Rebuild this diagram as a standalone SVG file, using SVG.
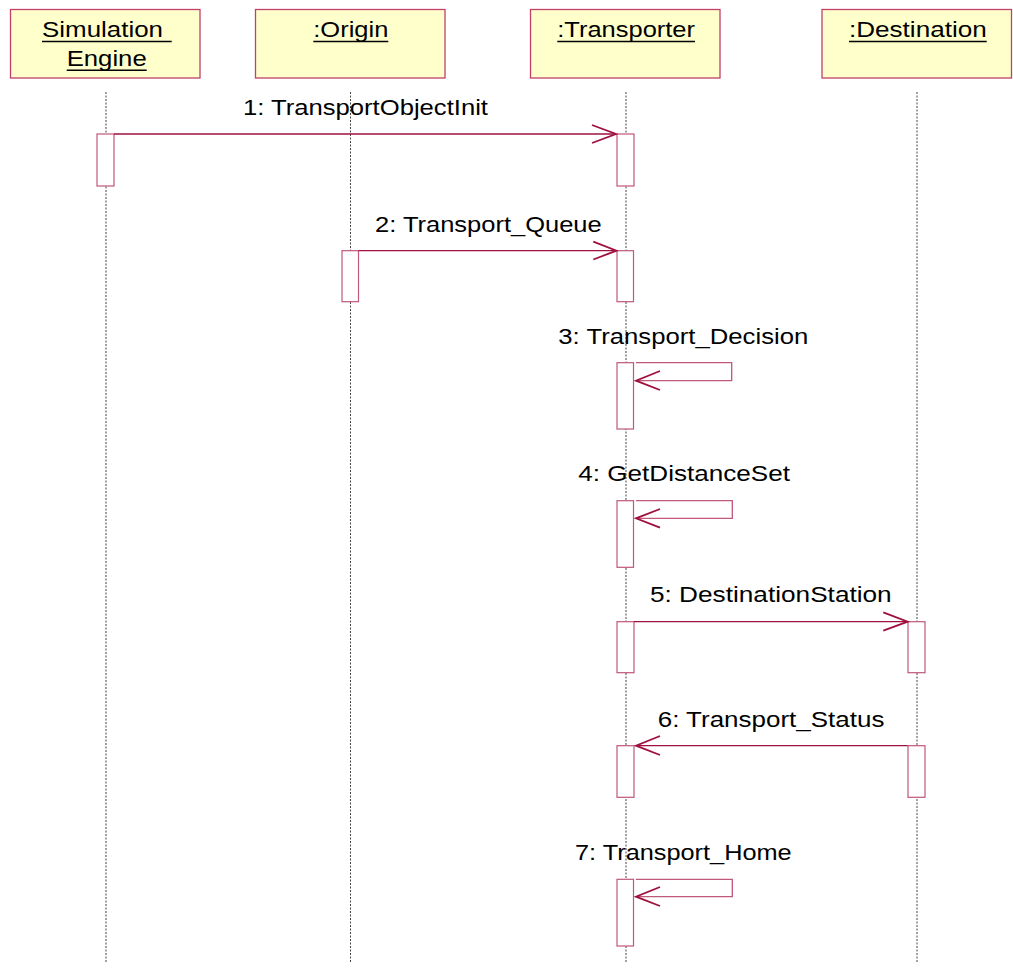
<svg xmlns="http://www.w3.org/2000/svg" width="1013" height="973" viewBox="0 0 1013 973">
<style>
.hdr{fill:#FFFFCC;stroke:#C0406A;stroke-width:1.3}
.hl{font-family:"Liberation Sans",Arial,sans-serif;font-size:22px;fill:#000}
.ul{stroke:#000;stroke-width:1.5}
.life{stroke:#444;stroke-width:1;stroke-dasharray:2,1.5}
.act{fill:#fff;stroke:#C05878;stroke-width:1.2}
.msg{stroke:#A0103F;stroke-width:1.3;fill:none}
.head{stroke:#A0103F;stroke-width:1.8;fill:none}
.loop{stroke:#C05878;stroke-width:1.3;fill:none}
.lbl{font-family:"Liberation Sans",Arial,sans-serif;font-size:22px;fill:#000}
</style>
<rect width="1013" height="973" fill="#fff"/>
<g id="lifelines">
<line class="life" x1="106" y1="92" x2="106" y2="962"/>
<line class="life" x1="350.5" y1="92" x2="350.5" y2="962"/>
<line class="life" x1="626" y1="92" x2="626" y2="962"/>
<line class="life" x1="917" y1="92" x2="917" y2="962"/>
</g>
<g id="node-simulation-engine">
<rect class="hdr" x="10.5" y="9.5" width="189.5" height="68.5"/>
<text class="hl" x="42" y="36.5" textLength="121" lengthAdjust="spacingAndGlyphs">Simulation</text>
<line class="ul" x1="42" y1="41.5" x2="171.7" y2="41.5"/>
<text class="hl" x="66.7" y="65.7" textLength="80" lengthAdjust="spacingAndGlyphs">Engine</text>
<line class="ul" x1="66.7" y1="70.3" x2="146.7" y2="70.3"/>
</g>
<g id="node-origin">
<rect class="hdr" x="255.5" y="9.5" width="189.5" height="68.5"/>
<text class="hl" x="313.3" y="36.5" textLength="75" lengthAdjust="spacingAndGlyphs">:Origin</text>
<line class="ul" x1="313.3" y1="41.5" x2="388.3" y2="41.5"/>
</g>
<g id="node-transporter">
<rect class="hdr" x="530.5" y="9.5" width="189.5" height="68.5"/>
<text class="hl" x="557.3" y="36.5" textLength="137.7" lengthAdjust="spacingAndGlyphs">:Transporter</text>
<line class="ul" x1="557.3" y1="41.5" x2="695" y2="41.5"/>
</g>
<g id="node-destination">
<rect class="hdr" x="822" y="9.5" width="189.5" height="68.5"/>
<text class="hl" x="849" y="36.5" textLength="137.7" lengthAdjust="spacingAndGlyphs">:Destination</text>
<line class="ul" x1="849" y1="41.5" x2="986.7" y2="41.5"/>
</g>
<g id="activations">
<rect class="act" x="97" y="134" width="17" height="52"/>
<rect class="act" x="617" y="134" width="17" height="52"/>
<rect class="act" x="342" y="250.7" width="16.5" height="51"/>
<rect class="act" x="617" y="250.7" width="16.5" height="51"/>
<rect class="act" x="617" y="362.7" width="16.5" height="66.3"/>
<rect class="act" x="617" y="500.7" width="16.5" height="66.6"/>
<rect class="act" x="617" y="621.7" width="17" height="51"/>
<rect class="act" x="908" y="621.7" width="17" height="51"/>
<rect class="act" x="617" y="745.7" width="17" height="51.6"/>
<rect class="act" x="908" y="745.7" width="17" height="51.6"/>
<rect class="act" x="617" y="879.3" width="16.5" height="66.7"/>
</g>
<g id="connectors">
<line class="msg" x1="114" y1="134" x2="616" y2="134"/>
<polyline class="head" points="592,125 616,134 592,143"/>
<text class="lbl" x="243" y="115" textLength="245" lengthAdjust="spacingAndGlyphs">1: TransportObjectInit</text>

<line class="msg" x1="358.5" y1="250.7" x2="616.5" y2="250.7"/>
<polyline class="head" points="593.3,241.7 616.5,250.7 593.3,259.5"/>
<text class="lbl" x="375" y="231.5" textLength="226.7" lengthAdjust="spacingAndGlyphs">2: Transport_Queue</text>

<polyline class="loop" points="636,362.7 731.7,362.7 731.7,380.7 636,380.7"/>
<polyline class="head" points="660,371 636,380.7 660,390"/>
<text class="lbl" x="558.3" y="344" textLength="250" lengthAdjust="spacingAndGlyphs">3: Transport_Decision</text>

<polyline class="loop" points="636,500.7 732.3,500.7 732.3,518.3 636,518.3"/>
<polyline class="head" points="660,509 636,518.3 660,527.7"/>
<text class="lbl" x="578.3" y="480.7" textLength="211.7" lengthAdjust="spacingAndGlyphs">4: GetDistanceSet</text>

<line class="msg" x1="634" y1="621.7" x2="907.7" y2="621.7"/>
<polyline class="head" points="883.3,612.3 907.7,621.7 883.3,630.7"/>
<text class="lbl" x="650" y="601.7" textLength="241.7" lengthAdjust="spacingAndGlyphs">5: DestinationStation</text>

<line class="msg" x1="907.7" y1="745.7" x2="636" y2="745.7"/>
<polyline class="head" points="660,736 636,745.7 660,755"/>
<text class="lbl" x="657.7" y="726.7" textLength="226.7" lengthAdjust="spacingAndGlyphs">6: Transport_Status</text>

<polyline class="loop" points="636,879.3 732.3,879.3 732.3,896.7 636,896.7"/>
<polyline class="head" points="660,887 636,896.7 660,906"/>
<text class="lbl" x="575" y="860" textLength="216.7" lengthAdjust="spacingAndGlyphs">7: Transport_Home</text>
</g>
</svg>
